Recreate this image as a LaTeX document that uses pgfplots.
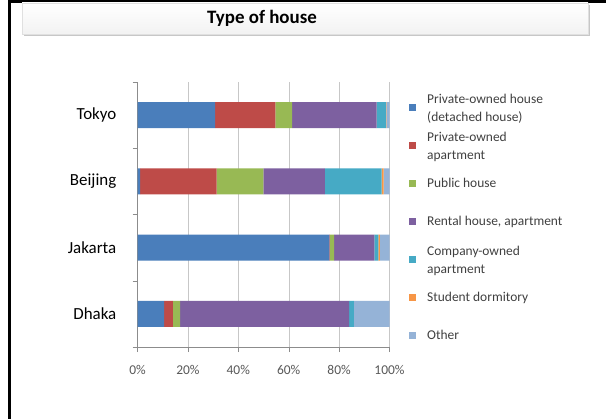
\documentclass[border=0pt]{standalone}
\usepackage{pgfplots}
\pgfplotsset{compat=1.18}
\usepackage{fontspec}
\setmainfont{Carlito}
\definecolor{c1}{HTML}{4A7EBB}
\definecolor{c2}{HTML}{BE4B48}
\definecolor{c3}{HTML}{98B954}
\definecolor{c4}{HTML}{7D60A0}
\definecolor{c5}{HTML}{46AAC5}
\definecolor{c6}{HTML}{F79646}
\definecolor{c7}{HTML}{95B3D7}
\begin{document}
\begin{tikzpicture}[x=1bp,y=1bp]
\useasboundingbox (0,0) rectangle (606,419);
\fill[white] (0,0) rectangle (606,419);
\draw[line width=3bp] (8,417.5) -- (606,417.5);
\draw[line width=2.5bp] (9.25,419) -- (9.25,0);
% title box
\fill[black!22] (23.5,383.5) rectangle (589.5,414);
\shade[top color=white, bottom color=black!5] (22,385) rectangle (588,416);
\draw[black!12] (22,385) rectangle (588,416);
\node[font=\bfseries\fontsize{19}{22}\selectfont] at (262,401) {Type of house};
\begin{axis}[
  at={(137.5bp,72bp)}, anchor=south west,
  width=252bp, height=265bp, scale only axis,
  xbar stacked, bar width=26bp,
  xmin=0, xmax=100, ymin=0.5, ymax=4.5,
  enlargelimits=false,
  axis lines*=left,
  axis line style={draw=black!45},
  xmajorgrids, grid style={draw=black!22},
  xtick={0,20,40,60,80,100},
  xticklabel={\pgfmathprintnumber{\tick}\%},
  /pgf/number format/assume math mode=true,
  xticklabel style={font=\fontsize{13.5}{16}\selectfont, text=black!65, inner sep=0pt, anchor=north, yshift=-13bp},
  ytick={1,2,3,4},
  yticklabels={Dhaka,Jakarta,Beijing,Tokyo},
  yticklabel style={font=\fontsize{17}{20}\selectfont, text=black, inner sep=0pt, anchor=east, xshift=-16bp},
  minor ytick={0.5,1.5,2.5,3.5,4.5},
  tick align=outside,
  major tick length=5bp, minor tick length=5bp,
  major x tick style={draw=black!45},
  major y tick style={draw=none},
  minor y tick style={draw=black!45},
  legend cell align=left,
  legend image code/.code={\fill[#1] (0bp,-3.5bp) rectangle (7bp,3.5bp);},
  legend style={at={(1.0774,0.9774)}, anchor=north west, draw=none, fill=none,
    inner sep=0pt, row sep=0pt, column sep=11bp,
    font=\fontsize{13.5}{17.5}\selectfont, text=black!75,
    nodes={inner sep=0pt, minimum height=38bp}},
]
\addplot[fill=c1, draw=none] coordinates {(10.6,1) (76.1,2) (1.0,3) (30.8,4)};
\addlegendentry{\raisebox{6bp}{\parbox[c]{175bp}{Private-owned house\\(detached house)}}}
\addplot[fill=c2, draw=none] coordinates {(3.4,1) (0.2,2) (30.4,3) (23.9,4)};
\addlegendentry{\raisebox{6bp}{\parbox[c]{175bp}{Private-owned\\apartment}}}
\addplot[fill=c3, draw=none] coordinates {(2.9,1) (1.7,2) (18.5,3) (6.7,4)};
\addlegendentry{Public house}
\addplot[fill=c4, draw=none] coordinates {(67.1,1) (16.0,2) (24.5,3) (33.5,4)};
\addlegendentry{Rental house, apartment}
\addplot[fill=c5, draw=none] coordinates {(1.9,1) (1.6,2) (22.5,3) (3.7,4)};
\addlegendentry{\raisebox{6bp}{\parbox[c]{175bp}{Company-owned\\apartment}}}
\addplot[fill=c6, draw=none] coordinates {(0.0,1) (0.6,2) (0.8,3) (0.2,4)};
\addlegendentry{Student dormitory}
\addplot[fill=c7, draw=none] coordinates {(14.1,1) (3.8,2) (2.3,3) (1.2,4)};
\addlegendentry{Other}
\end{axis}
\end{tikzpicture}
\end{document}
